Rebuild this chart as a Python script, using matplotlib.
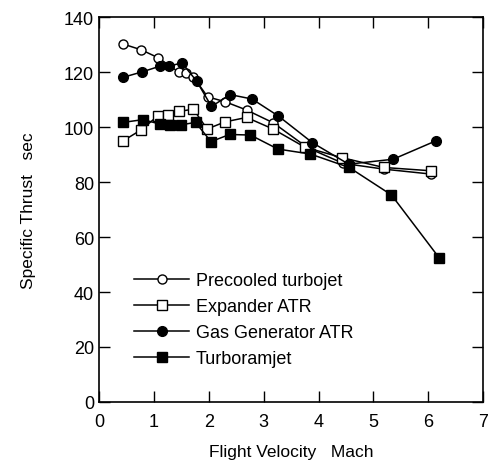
import matplotlib
matplotlib.use("Agg")
import matplotlib.pyplot as plt

plt.rcParams['font.family'] = ['Liberation Sans', 'DejaVu Sans']

# Precooled turbojet
pre_m = [0.44, 0.77, 1.08, 1.46, 1.58, 1.72, 1.98, 2.30, 2.69, 3.18, 3.80, 4.45, 5.19, 6.05]
pre_t = [130.2, 128.1, 125.2, 119.9, 119.5, 118.2, 111.0, 109.2, 106.2, 101.5, 92.5, 86.8, 84.7, 82.9]

# Expander ATR
exp_m = [0.44, 0.77, 1.08, 1.26, 1.46, 1.72, 1.97, 2.30, 2.69, 3.17, 3.75, 4.42, 5.19, 6.05]
exp_t = [95.0, 99.0, 104.2, 104.4, 105.7, 106.5, 99.3, 101.9, 103.5, 99.3, 92.7, 88.9, 85.3, 84.1]

# Gas Generator ATR
gas_m = [0.44, 0.79, 1.12, 1.28, 1.51, 1.78, 2.05, 2.39, 2.79, 3.27, 3.89, 4.55, 5.36, 6.14]
gas_t = [118.1, 120.1, 122.2, 122.1, 123.4, 116.7, 107.5, 111.8, 110.2, 104.0, 94.3, 86.5, 88.3, 95.0]

# Turboramjet
trj_m = [0.44, 0.80, 1.11, 1.30, 1.49, 1.76, 2.04, 2.38, 2.76, 3.26, 3.85, 4.56, 5.33, 6.20]
trj_t = [101.7, 102.7, 101.1, 100.9, 100.8, 101.7, 94.7, 97.3, 97.1, 92.0, 90.2, 85.3, 75.3, 52.4]

fig = plt.figure(figsize=(4.9, 4.64), dpi=100)
ax = fig.add_axes([0.202, 0.1315, 0.784, 0.8295])

ax.plot(pre_m, pre_t, '-o', color='black', mfc='white', mec='black', ms=6.5, lw=1.1,
        label='Precooled turbojet')
ax.plot(exp_m, exp_t, '-s', color='black', mfc='white', mec='black', ms=7.5, lw=1.1,
        label='Expander ATR')
ax.plot(gas_m, gas_t, '-o', color='black', mfc='black', ms=7, lw=1.1,
        label='Gas Generator ATR')
ax.plot(trj_m, trj_t, '-s', color='black', mfc='black', ms=7.5, lw=1.1,
        label='Turboramjet')

ax.set_xlim(0, 7)
ax.set_ylim(0, 140)
ax.set_xticks(range(0, 8))
ax.set_yticks(range(0, 141, 20))
ax.tick_params(direction='in', length=8, width=1, top=True, right=True, labelsize=13)
ax.tick_params(axis='x', pad=8)
for s in ax.spines.values():
    s.set_linewidth(1.2)

ax.set_xlabel('Flight Velocity   Mach', fontsize=12.5, labelpad=10)
ax.set_ylabel('Specific Thrust   sec', fontsize=12.5, labelpad=20)

ax.legend(loc='upper left', bbox_to_anchor=(0.05, 0.38), frameon=False, fontsize=13,
          handlelength=3.0, handletextpad=0.4, labelspacing=0.5)

fig.savefig('out.png', dpi=100)
